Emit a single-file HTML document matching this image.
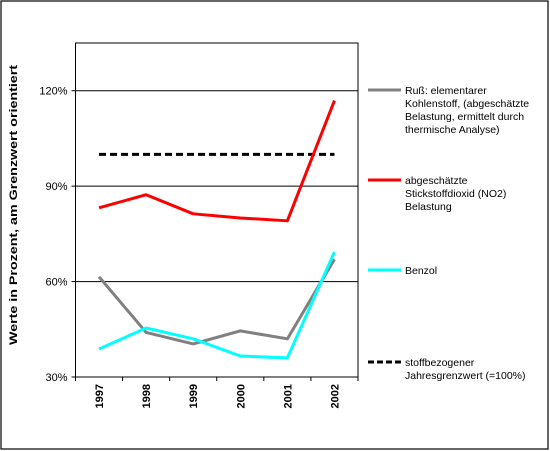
<!DOCTYPE html>
<html><head><meta charset="utf-8"><style>
body{margin:0;background:#fff;}
svg{display:block;font-family:"Liberation Sans",Arial,sans-serif;}
</style></head><body>
<svg width="550" height="451" xmlns="http://www.w3.org/2000/svg">
<rect x="1" y="1" width="547" height="448" fill="#fff" stroke="#000" stroke-width="1.2"/>
<g id="plot"></g>
<text transform="translate(17,205) rotate(-90)" text-anchor="middle" font-size="11" font-weight="bold" textLength="280" lengthAdjust="spacingAndGlyphs">Werte in Prozent, am Grenzwert orientiert</text>
<g font-size="10.5">
<g><line x1="368" y1="90" x2="401" y2="90" stroke="#808080" stroke-width="3"/>
<text x="405" y="94">Ruß: elementarer</text><text x="405" y="107">Kohlenstoff, (abgeschätzte</text><text x="405" y="120">Belastung, ermittelt durch</text><text x="405" y="133">thermische Analyse)</text></g>
<g><line x1="368" y1="180" x2="401" y2="180" stroke="#ff0000" stroke-width="3"/>
<text x="405" y="184">abgeschätzte</text><text x="405" y="197">Stickstoffdioxid (NO2)</text><text x="405" y="210">Belastung</text></g>
<g><line x1="368" y1="270" x2="401" y2="270" stroke="#00ffff" stroke-width="3"/>
<text x="405" y="274">Benzol</text></g>
<g><line x1="368" y1="362" x2="401" y2="362" stroke="#000" stroke-width="3" stroke-dasharray="6,3"/>
<text x="405" y="366">stoffbezogener</text><text x="405" y="379">Jahresgrenzwert (=100%)</text></g>
</g>
</svg>
<script>
const categories=["1997","1998","1999","2000","2001","2002"];
const russ=[61.5,44,40.4,44.5,42,67];
const no2=[83.2,87.3,81.3,80,79.1,116.9];
const benzol=[38.8,45.4,42,36.6,36,69.3];
const grenzwert=[100,100,100,100,100,100];
const yTicks=[30,60,90,120];
const yTickLabels=["30%","60%","90%","120%"];
const L=75.5,R=358,T=43,B=377,yMin=30,yMax=135;
const ns="http://www.w3.org/2000/svg";
const g=document.getElementById('plot');
const step=(R-L)/categories.length;
const x=i=>L+step*(i+0.5);
const y=v=>B-(v-yMin)/(yMax-yMin)*(B-T);
function mk(t,a){const e=document.createElementNS(ns,t);for(const k in a)e.setAttribute(k,a[k]);g.appendChild(e);return e;}
yTicks.forEach((v,i)=>{
 if(v>yMin){const gl=mk('line',{x1:L,x2:R,y1:y(v),y2:y(v),stroke:'#000','stroke-width':1});
 
 }
 const tk=mk('line',{x1:L-4,x2:L,y1:y(v),y2:y(v),stroke:'#000'});
 
 
 const t=mk('text',{x:L-8,y:y(v)+4,'text-anchor':'end','font-size':11});
 t.textContent=yTickLabels[i];
 
 
});
const fr=mk('rect',{x:L,y:T,width:R-L,height:B-T,fill:'none',stroke:'#000','stroke-width':1});


for(let i=0;i<=categories.length;i++){
 const tk=mk('line',{x1:L+step*i,x2:L+step*i,y1:B,y2:B+4,stroke:'#000'});
 
 
}
categories.forEach((c,i)=>{
 const t=mk('text',{transform:`translate(${x(i)+4},384) rotate(-90)`,'text-anchor':'end','font-size':11,'font-weight':'bold'});
 t.textContent=c;
 
 
});
function series(arr,color,name,dash){
 const p=mk('polyline',{points:arr.map((v,i)=>x(i)+','+y(v)).join(' '),fill:'none',stroke:color,'stroke-width':3,'stroke-linejoin':'round'});
 if(dash)p.setAttribute('stroke-dasharray',dash);
 
 
}
series(grenzwert,'#000','series-grenzwert','7,4');
series(russ,'#808080','series-russ');
series(no2,'#ff0000','series-no2');
series(benzol,'#00ffff','series-benzol');
</script>
</body></html>
